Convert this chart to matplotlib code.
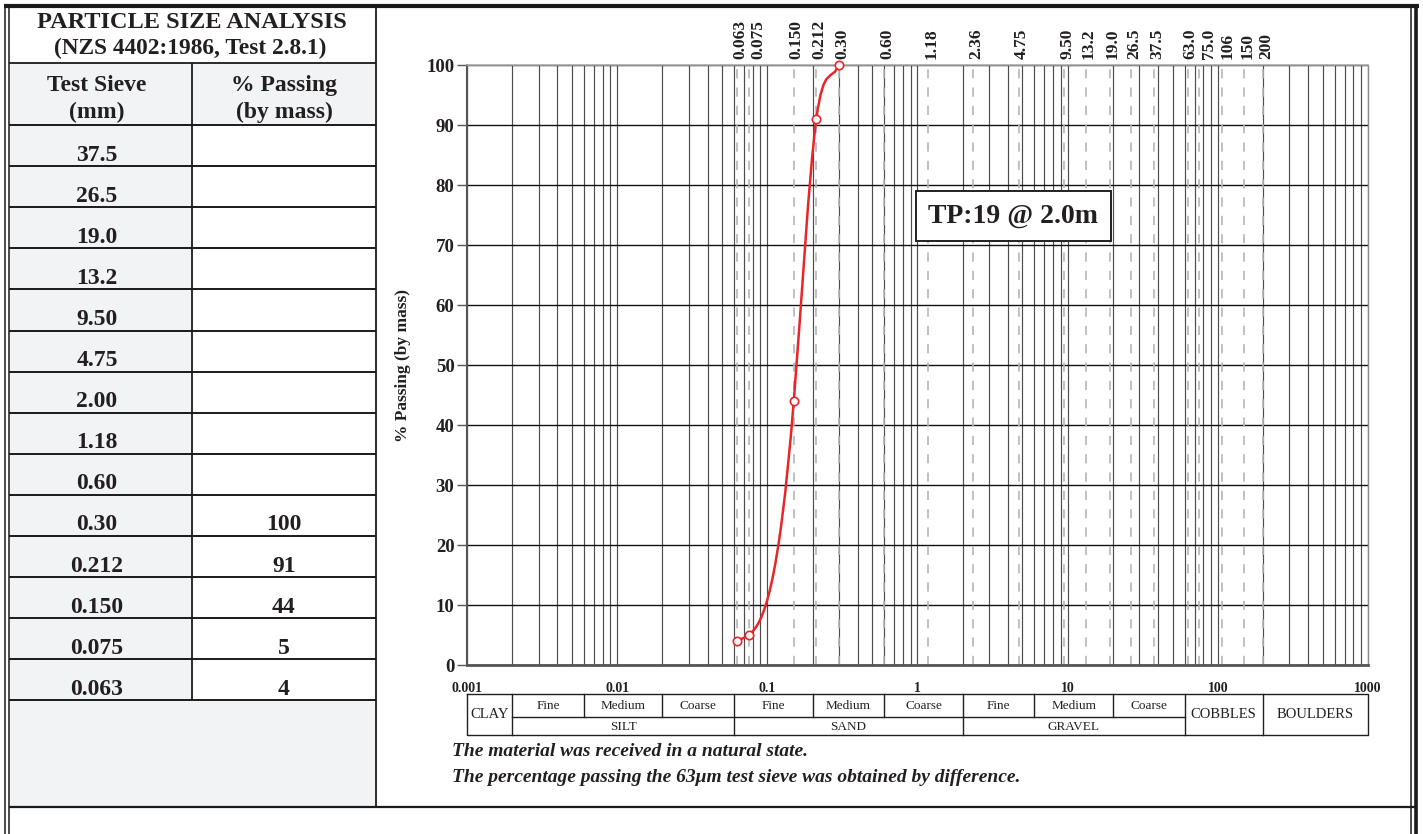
import numpy as np
import matplotlib
matplotlib.use('Agg')
import matplotlib.pyplot as plt
from matplotlib.path import Path
from matplotlib.patches import PathPatch, Rectangle
from matplotlib import transforms as mtransforms
from matplotlib.ticker import LogLocator, FixedLocator, NullFormatter

plt.rcParams['font.family'] = ['Liberation Serif', 'DejaVu Serif']

# table data
table_sieves = ['37.5', '26.5', '19.0', '13.2', '9.50', '4.75', '2.00', '1.18',
                '0.60', '0.30', '0.212', '0.150', '0.075', '0.063']
table_passing = ['', '', '', '', '', '', '', '', '', '100', '91', '44', '5', '4']

# grading curve
curve_size = [0.063, 0.075, 0.150, 0.212, 0.30]
curve_pass = [4, 5, 44, 91, 100]

# sieve sizes marked on top of chart
top_sieves = [0.063, 0.075, 0.150, 0.212, 0.30, 0.60, 1.18, 2.36, 4.75, 9.50,
              13.2, 19.0, 26.5, 37.5, 63.0, 75.0, 106, 150, 200]
top_labels = ['0.063', '0.075', '0.150', '0.212', '0.30', '0.60', '1.18', '2.36',
              '4.75', '9.50', '13.2', '19.0', '26.5', '37.5', '63.0', '75.0',
              '106', '150', '200']

x_ticks = [0.001, 0.01, 0.1, 1, 10, 100, 1000]
x_ticklabels = ['0.001', '0.01', '0.1', '1', '10', '100', '1000']

# soil classification bands
sub_bounds = [0.002, 0.006, 0.02, 0.06, 0.2, 0.6, 2, 6, 20, 60]
sub_names = ['Fine', 'Medium', 'Coarse'] * 3
main_bounds = [0.002, 0.06, 2, 60]
main_names = ['SILT', 'SAND', 'GRAVEL']
full_bounds = [(0.001, 0.002), (60, 200), (200, 1000)]
full_names = ['CLAY', 'COBBLES', 'BOULDERS']

W, H = 1423, 834
fig = plt.figure(figsize=(W / 100, H / 100), dpi=100)
bg = fig.add_axes([0, 0, 1, 1])
bg.set_xlim(0, W)
bg.set_ylim(H, 0)
bg.axis('off')
bg.set_autoscale_on(False)

# axes placement (pixels)
axL, axR, axT, axB = 467, 1368, 65, 665
ax = fig.add_axes([axL / W, 1 - axB / H, (axR - axL) / W, (axB - axT) / H])
ax.set_zorder(2)

ink = '#231f20'
k = dict(color='#1a1a1a', solid_capstyle='butt')
# outer frame
bg.plot([5, 5], [5, H], lw=1.1, **k)
bg.plot([9, 9], [5, H], lw=1.1, **k)
bg.plot([4, 1419], [6, 6], lw=3, **k)
bg.plot([1411, 1411], [6, H], lw=1.1, **k)
bg.plot([1416, 1416], [6, H], lw=2.6, **k)
bg.plot([9, 1416], [807, 807], lw=1.6, **k)
bg.plot([376, 376], [6, 807], lw=1.3, **k)

# left table
grey = '#f2f3f5'
colx = 192
row_top, row_h = 125, 41.1
bg.add_patch(Rectangle((10, 63), colx - 10, row_top - 63, color=grey, lw=0))
bg.add_patch(Rectangle((colx, 63), 376 - colx, row_top - 63, color=grey, lw=0))
n = len(table_sieves)
tab_bot = row_top + n * row_h
bg.add_patch(Rectangle((10, row_top), colx - 10, n * row_h, color=grey, lw=0))
bg.add_patch(Rectangle((10, tab_bot), 366, 807 - tab_bot, color=grey, lw=0))
bg.plot([9, 376], [63, 63], lw=1.3, **k)
for i in range(n + 1):
    yy = row_top + i * row_h
    bg.plot([9, 376], [yy, yy], lw=1.4, **k)
bg.plot([colx, colx], [63, tab_bot], lw=1.3, **k)

tk = dict(ha='center', va='center', fontweight='bold', color=ink)
bg.text(192, 22, 'PARTICLE SIZE ANALYSIS', fontsize=17.5, **tk)
bg.text(190, 48, '(NZS 4402:1986, Test 2.8.1)', fontsize=16.8, **tk)
bg.text(97, 85, 'Test Sieve', fontsize=17, **tk)
bg.text(97, 112, '(mm)', fontsize=17, **tk)
bg.text(284, 85, '% Passing', fontsize=17, **tk)
bg.text(284, 112, '(by mass)', fontsize=17, **tk)
for i, (s, p) in enumerate(zip(table_sieves, table_passing)):
    yy = row_top + i * row_h + 30
    bg.text(97, yy, s, fontsize=17, **tk)
    if p:
        bg.text(284, yy, p, fontsize=17, **tk)

# chart
ax.set_xscale('log')
ax.set_xlim(0.001, 1000)
ax.set_ylim(0, 100)
ax.xaxis.set_major_locator(FixedLocator(x_ticks))
ax.set_xticklabels(x_ticklabels, fontweight='bold', fontsize=10)
ax.xaxis.set_minor_locator(LogLocator(base=10, subs=np.arange(2, 10)))
ax.xaxis.set_minor_formatter(NullFormatter())
ax.tick_params(axis='x', which='both', length=0, pad=12, colors=ink)
ax.set_yticks(np.arange(0, 101, 10))
ax.set_yticklabels([str(v) for v in range(0, 101, 10)], fontweight='bold',
                   fontsize=13.5, color=ink)
ax.tick_params(axis='y', length=7, width=1, pad=2, color='#555555')
ax.grid(axis='x', which='both', color='#4d4d4d', lw=0.85)
ax.grid(axis='y', which='major', color='#111111', lw=1.0)
ax.set_axisbelow(True)
for side, c, w in [('top', '#aaaaaa', 1.2), ('right', '#888888', 1.0),
                   ('left', '#555555', 1.5), ('bottom', '#555555', 2.0)]:
    ax.spines[side].set_color(c)
    ax.spines[side].set_linewidth(w)

for s in top_sieves:
    ax.axvline(s, color='#b5b5b5', lw=1.2, dashes=(5.5, 5.5), zorder=1)

# rotated sieve labels above the plot, nudged apart where crowded
lab_px = []
for s in top_sieves:
    px = axL + (np.log10(s) + 3) / 6 * (axR - axL) + 3
    if lab_px and px < lab_px[-1] + 18.5:
        px = lab_px[-1] + 18.5
    lab_px.append(px)
for px, lab in zip(lab_px, top_labels):
    bg.text(px, 59, lab, rotation=90, ha='center', va='bottom', fontsize=12.5,
            fontweight='bold', color=ink)

# smooth curve: cubic spline of % passing against log size (ends clamped to
# the end chord slopes), each piece written as an exact Bezier segment
xs = np.log10(curve_size)
ys = np.asarray(curve_pass, float)
m = len(xs)
h = np.diff(xs)
sec = np.diff(ys) / h
A = np.zeros((m, m))
rhs = np.zeros(m)
A[0, 0], A[0, 1] = 2 * h[0], h[0]
A[-1, -2], A[-1, -1] = h[-1], 2 * h[-1]
for i in range(1, m - 1):
    A[i, i - 1] = h[i - 1]
    A[i, i] = 2 * (h[i - 1] + h[i])
    A[i, i + 1] = h[i]
    rhs[i] = 6 * (sec[i] - sec[i - 1])
M = np.linalg.solve(A, rhs)
d = np.empty(m)
d[:-1] = sec - h * (2 * M[:-1] + M[1:]) / 6
d[-1] = sec[-1] + h[-1] * (M[-2] + 2 * M[-1]) / 6
verts = [(xs[0], ys[0])]
codes = [Path.MOVETO]
for i in range(m - 1):
    verts += [(xs[i] + h[i] / 3, ys[i] + d[i] * h[i] / 3),
              (xs[i + 1] - h[i] / 3, ys[i + 1] - d[i + 1] * h[i] / 3),
              (xs[i + 1], ys[i + 1])]
    codes += [Path.CURVE4] * 3
verts = np.array(verts)
verts[:, 0] = 10 ** verts[:, 0]
ax.add_patch(PathPatch(Path(verts, codes), facecolor='none', edgecolor='#e8262a',
                       lw=1.8, zorder=4, clip_on=False))
ax.plot(curve_size, curve_pass, 'o', ms=6, mfc='white', mec='#e8262a', mew=1.2,
        zorder=5, clip_on=False)

# sample tag
ax.text(1013, 216, 'TP:19 @ 2.0m', transform=bg.transData, fontsize=20,
        fontweight='bold', ha='center', va='center', color=ink, zorder=6,
        bbox=dict(boxstyle='square,pad=0.45', fc='white', ec=ink, lw=1.4))

bg.text(403, 365, '% Passing (by mass)', rotation=90, ha='center', va='center',
        fontsize=12.5, fontweight='bold', color=ink)

# classification table below the axis
tr = mtransforms.blended_transform_factory(ax.transData, bg.transData)
y0, ym, y1 = 694, 717, 735
lk = dict(color=ink, lw=1.0, transform=tr, clip_on=False)
bg.plot([0.001, 1000, 1000, 0.001, 0.001], [y0, y0, y1, y1, y0], **lk)
for b in [0.002, 0.06, 2, 60, 200]:
    bg.plot([b, b], [y0, y1], **lk)
for b in [0.006, 0.02, 0.2, 0.6, 6, 20]:
    bg.plot([b, b], [y0, ym], **lk)
bg.plot([0.002, 60], [ym, ym], **lk)
ck = dict(ha='center', va='center', transform=tr, color=ink)
for i, name in enumerate(sub_names):
    xm = np.sqrt(sub_bounds[i] * sub_bounds[i + 1])
    bg.text(xm, 706, name, fontsize=9.5, **ck)
for i, name in enumerate(main_names):
    xm = np.sqrt(main_bounds[i] * main_bounds[i + 1])
    bg.text(xm, 726.5, name, fontsize=9.5, **ck)
for (a, b), name in zip(full_bounds, full_names):
    bg.text(np.sqrt(a * b), 715, name, fontsize=10.5, **ck)

nk = dict(fontsize=14, fontweight='bold', fontstyle='italic', ha='left',
          va='center', color=ink)
bg.text(452, 752, 'The material was received in a natural state.', **nk)
bg.text(452, 778, 'The percentage passing the 63\u03bcm test sieve was obtained by difference.', **nk)

fig.savefig('out.png', dpi=100)
